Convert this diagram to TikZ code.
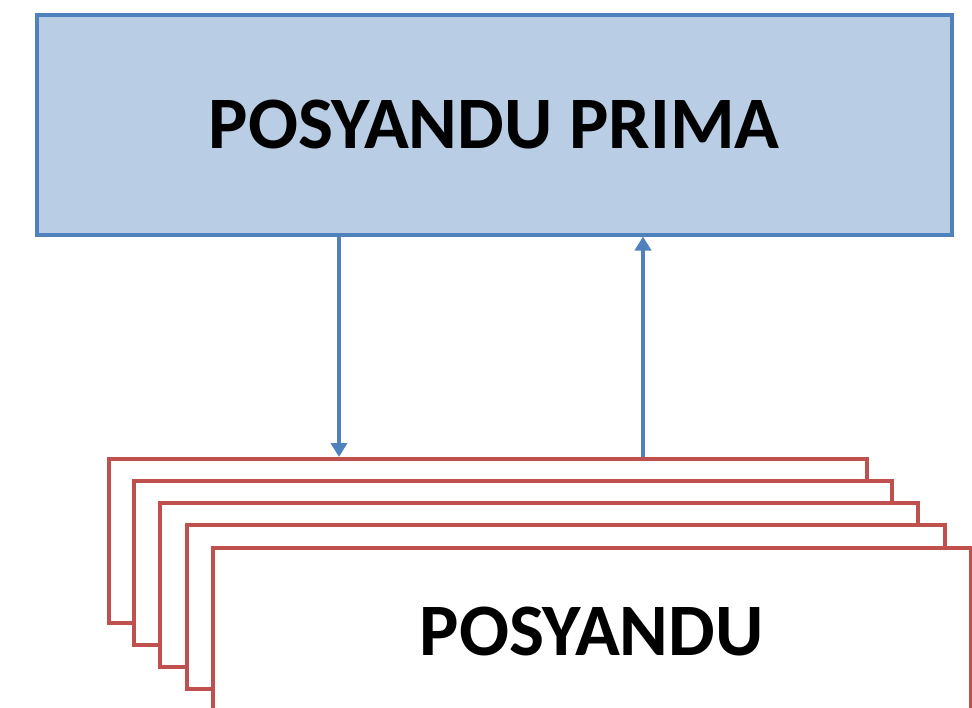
\documentclass[tikz,border=0pt]{standalone}
\usepackage{fontspec}
\setmainfont{Carlito}
\usetikzlibrary{arrows.meta,calc}
\definecolor{bblue}{HTML}{4F81BD}
\definecolor{bfill}{HTML}{B9CDE5}
\definecolor{rred}{HTML}{C0504D}
\begin{document}
\begin{tikzpicture}[x=1pt,y=-1pt,
  topbox/.style={draw=bblue,fill=bfill,line width=3.5pt,rectangle,inner sep=0pt,minimum width=915pt,minimum height=220pt,anchor=north west,font=\fontsize{74}{76}\selectfont\bfseries},
  stackbox/.style={draw=rred,fill=white,line width=3.5pt,rectangle,inner sep=0pt,minimum width=758pt,minimum height=164pt,anchor=north west},
  lbltext/.style={font=\fontsize{74}{76}\selectfont\bfseries},
  conn/.style={draw=bblue,line width=3.5pt,-{Triangle[width=16pt,length=14pt]}}]
\useasboundingbox (0,0) rectangle (972,707);
\node[topbox] (top) at (35,13) {POSYANDU PRIMA};
\node[stackbox] (b1) at (107,457) {};
\node[stackbox] (b2) at (132,479) {};
\node[stackbox] (b3) at (158,501) {};
\node[stackbox] (b4) at (185,523) {};
\node[stackbox] (b5) at (211,546) {};
\node[lbltext] (lbl) at ($(b5.center)+(0,2)$) {POSYANDU};
\coordinate (xa) at (339,0);
\coordinate (xb) at (643,0);
\draw[conn] (top.south -| xa) -- (b1.north -| xa);
\draw[conn] (b1.north -| xb) -- (top.south -| xb);
\end{tikzpicture}
\end{document}
